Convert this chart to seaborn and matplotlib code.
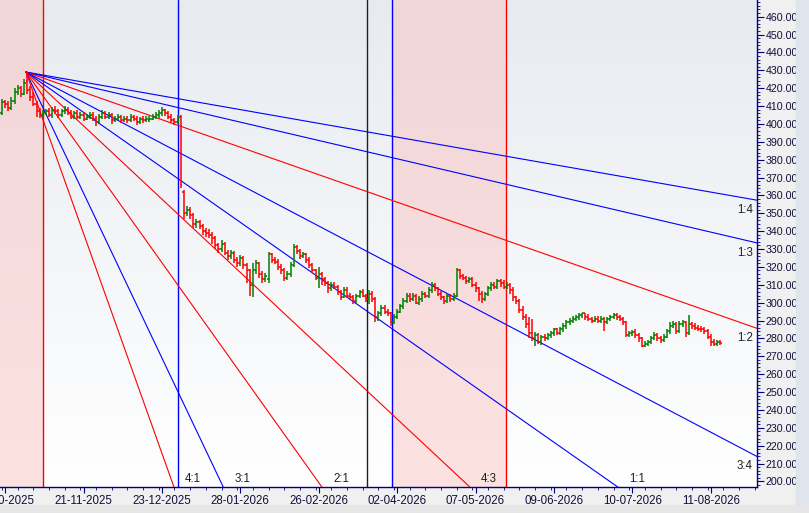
import numpy as np
import pandas as pd
import seaborn as sns
import matplotlib.pyplot as plt
from matplotlib.colors import LinearSegmentedColormap
from matplotlib.ticker import MultipleLocator, FixedLocator
from matplotlib.patches import Rectangle

# daily OHLC bars (bar index = trading day)
opens = [406, 412, 411, 409, 413, 418, 420, 417, 424, 419,
         415, 411, 407, 405, 406, 407, 405, 408, 407, 405,
         407, 408, 406, 404, 406, 404, 405, 403, 404, 405,
         403, 401, 404, 406, 404, 405, 402, 403, 404, 402,
         403, 402, 404, 403, 401, 403, 402, 402, 403, 404,
         405, 406, 408, 406, 404, 402, 401, 404, 362, 350,
         352, 349, 344, 345, 343, 340, 339, 338, 336, 332,
         330, 333, 328, 326, 328, 324, 322, 325, 321, 318,
         310, 318, 322, 316, 313, 313, 327, 324, 323, 320,
         318, 314, 316, 321, 331, 329, 326, 327, 324, 321,
         318, 314, 316, 313, 311, 308, 310, 309, 306, 303,
         307, 304, 303, 301, 304, 306, 304, 302, 305, 302,
         292, 294, 297, 295, 294, 289, 292, 295, 298, 301,
         304, 302, 304, 300, 302, 305, 304, 307, 310, 308,
         305, 303, 301, 304, 302, 304, 318, 315, 314, 312,
         313, 310, 308, 305, 302, 305, 308, 310, 309, 312,
         311, 309, 310, 307, 303, 301, 296, 292, 288, 283,
         280, 282, 278, 281, 280, 282, 283, 285, 283, 285,
         287, 289, 290, 291, 292, 293, 294, 292, 291, 290,
         291, 290, 291, 289, 291, 292, 293, 292, 291, 289,
         282, 283, 283.5, 282, 280, 276, 277, 278, 280, 282,
         280, 279, 281, 284, 287, 288, 284, 288, 289, 283,
         288, 287, 286, 285.5, 285, 284, 281, 278, 277, 278]
highs = [414, 413.5, 413, 415, 420, 422, 421, 425, 429, 421,
         418, 413, 409, 407.5, 408.5, 409, 409.5, 410, 408.5, 408.5,
         410, 409.5, 407.5, 407, 407.5, 406.5, 406.5, 405.5, 406.5, 406.5,
         404.5, 405.5, 407.5, 407, 406.5, 406, 404.5, 405.5, 405, 404.5,
         404.5, 405.5, 405, 404.5, 404, 404.5, 404.5, 404.5, 405.5, 406.5,
         408, 409.5, 408.5, 407, 405.5, 403.5, 405, 405, 363, 354,
         353.5, 350, 347, 346.5, 344, 342, 341, 339.5, 337.5, 333.5,
         335, 334, 329.5, 329.5, 329, 325.5, 326.5, 326, 322, 319,
         322, 324, 323, 317.5, 316.5, 328.5, 328, 325.5, 324.5, 321.5,
         319.5, 317.5, 322.5, 333, 332.5, 330, 328.5, 328, 325.5, 322,
         319, 320, 317, 314.5, 312, 311.5, 311.5, 310, 307, 308.5,
         308.5, 305.5, 304.5, 305, 307, 307.5, 305, 307, 306.5, 303,
         295.5, 298.5, 298.5, 296.5, 295, 293.5, 296.5, 299.5, 302.5, 305.5,
         305.5, 305.5, 305, 303.5, 306.5, 306, 308.5, 311.5, 311, 309,
         306.5, 304, 305.5, 305, 305.5, 319.5, 319, 316, 315, 314.5,
         314.5, 311.5, 309, 306.5, 306, 309.5, 311.5, 311.5, 313.5, 313,
         312.5, 311.5, 311, 308.5, 304, 302, 298, 293.5, 292, 291,
         283.5, 283, 282, 282.5, 283, 284, 286, 286, 286.5, 288.5,
         290.5, 291.5, 292.5, 293, 294, 294.5, 294.5, 293.5, 292, 292.5,
         292.5, 292.5, 292, 292, 293, 294, 294, 293, 292, 290,
         284, 284.5, 285, 283, 281, 278.5, 279, 281.5, 283.5, 283,
         281.5, 282.5, 285.5, 289, 290, 289, 289.5, 290.5, 290, 293,
         289, 288.5, 287.5, 287, 286.5, 285.5, 282.5, 279.5, 279, 279]
lows = [405, 409, 407, 408, 411, 416, 415, 416, 417, 413,
        410, 404, 403.5, 403.5, 405, 404, 403.5, 405.5, 403.5, 404,
        405.5, 405, 402.5, 403, 402.5, 403, 401.5, 402, 403, 401.5,
        399, 400, 403, 402.5, 403, 400, 401, 402, 400.5, 401,
        400.5, 401, 401.5, 399.5, 400, 400.5, 401, 401, 402, 402.5,
        403.5, 404.5, 404.5, 402.5, 400.5, 399.5, 400, 364, 347, 348.5,
        347, 341.5, 342, 341, 338, 336.5, 336, 333, 330, 328,
        328.5, 326.5, 324, 324.5, 322, 320, 320.5, 319, 311, 304,
        303, 316, 314, 311, 311.5, 311, 322, 321.5, 318.5, 316,
        312, 312.5, 314.5, 320, 327, 324.5, 325, 322, 319.5, 316.5,
        312.5, 308, 310, 309.5, 305.5, 306.5, 307.5, 304.5, 301.5, 302.5,
        302.5, 301.5, 299.5, 300, 302.5, 303, 300.5, 299, 300.5, 289,
        289.5, 292.5, 293.5, 292.5, 287, 288, 291, 294, 296.5, 300,
        300.5, 301, 299, 298.5, 300.5, 302.5, 302.5, 305.5, 306.5, 303.5,
        301.5, 299.5, 300, 300.5, 301, 303, 313.5, 312.5, 310.5, 311,
        308.5, 306, 301, 300, 301, 303.5, 306.5, 307.5, 307.5, 309,
        307.5, 307.5, 305, 301, 299.5, 294.5, 290.5, 286, 280, 278.5,
        276, 277, 276.5, 278.5, 279, 280.5, 281.5, 282, 282, 283.5,
        285.5, 287.5, 288.5, 289.5, 290.5, 291.5, 290.5, 289.5, 288.5, 289,
        288.5, 288.5, 284, 288, 290, 291, 290.5, 289.5, 287.5, 281,
        281, 281.5, 280.5, 278, 275, 275, 275.5, 277, 279, 278.5,
        277.5, 278, 280, 282.5, 286, 282.5, 283, 286.5, 281, 282,
        285.5, 284.5, 284, 283.5, 282.5, 279.5, 276, 275.5, 276, 276.5]
closes = [412, 411, 409, 413, 418, 420, 417, 423, 419, 415,
          411, 407, 405, 406, 407, 405, 408, 407, 405, 407,
          408, 406, 404, 406, 404, 405, 403, 404, 405, 403,
          401, 404, 406, 404, 405, 402, 403, 404, 402, 403,
          402, 404, 403, 401, 403, 402, 403, 403, 404, 405,
          406, 408, 406, 404, 402, 401, 404, 366, 350, 352,
          349, 344, 345, 343, 340, 339, 338, 336, 332, 330,
          333, 328, 326, 328, 324, 322, 325, 321, 318, 310,
          318, 322, 316, 313, 315, 327, 324, 323, 320, 318,
          314, 316, 321, 331, 329, 326, 327, 324, 321, 318,
          314, 316, 313, 311, 308, 310, 309, 306, 303, 307,
          304, 303, 301, 304, 306, 304, 302, 305, 302, 292,
          294, 297, 295, 294, 289, 292, 295, 298, 301, 304,
          302, 304, 300, 302, 305, 304, 307, 310, 308, 305,
          303, 301, 304, 302, 304, 318, 315, 314, 312, 313,
          310, 308, 305, 302, 305, 308, 310, 309, 312, 311,
          309, 310, 307, 303, 301, 296, 292, 288, 283, 280,
          282, 278, 281, 280, 282, 283, 285, 283, 285, 287,
          289, 290, 291, 292, 293, 294, 292, 291, 290, 291,
          290, 291, 289, 291, 292, 293, 292, 291, 289, 282,
          283, 283.5, 282, 280, 276, 277, 278, 280, 282, 280,
          279, 281, 284, 287, 288, 284, 288, 289, 283, 288,
          287, 286, 285.5, 285, 284, 281, 278, 277, 278, 277.5]

date_labels = ['20-10-2025', '21-11-2025', '23-12-2025', '28-01-2026', '26-02-2026',
               '02-04-2026', '07-05-2026', '09-06-2026', '10-07-2026', '11-08-2026']

# Gann fan from the October high
fan_pivot_bar = 7.65
fan_pivot_price = 429.0
fan_unit = 1.23  # price per bar for the 1:1 line
fan_names = ['1:4', '1:3', '1:2', '3:4', '1:1', '4:3', '2:1', '3:1', '4:1']
fan_ratios = [1 / 4, 1 / 3, 1 / 2, 3 / 4, 1, 4 / 3, 2, 3, 4]
fan_colors = ['blue', 'blue', 'red', 'blue', 'blue', 'red', 'red', 'blue', 'red']

# time cycle lines and shaded zones (bar index)
cycle_bars = [13.1, 56.1, 116.4, 124.4, 160.7]
cycle_colors = ['red', 'blue', '#202020', 'blue', 'red']
zones = [(-1, 13.1), (124.4, 160.7)]

xmin, xmax = -0.64, 240.75
ymin, ymax = 196.9, 469.3

sns.set_theme(style='white')
plt.rcParams['font.family'] = ['Liberation Sans', 'DejaVu Sans']

fig = plt.figure(figsize=(8.09, 5.13), dpi=100, facecolor='#f0f0f0')
ax = fig.add_axes([0, 26 / 513, 757 / 809, 487 / 513])
fig.patches.append(Rectangle((796 / 809, 0), 13 / 809, 1, transform=fig.transFigure,
                             color='#dfe5ec', zorder=0))
fig.patches.append(Rectangle((0, 0), 1, 8 / 513, transform=fig.transFigure,
                             color='#e6e6e6', zorder=0))

# background gradient
bg = LinearSegmentedColormap.from_list('bg', ['#ffffff', '#e7ebf0'])
ax.imshow(np.linspace(0, 1, 256).reshape(-1, 1), extent=[xmin, xmax, ymin, ymax],
          cmap=bg, aspect='auto', origin='lower', zorder=0)
pink = LinearSegmentedColormap.from_list('pink', ['#fde2e2', '#f1d6d8'])
for z0, z1 in zones:
    ax.imshow(np.linspace(0, 1, 256).reshape(-1, 1), extent=[z0, z1, ymin, ymax],
              cmap=pink, aspect='auto', origin='lower', zorder=0.5)

for b, c in zip(cycle_bars, cycle_colors):
    ax.axvline(b, color=c, lw=1.0, zorder=2)

# fan lines
rows = []
for name, r in zip(fan_names, fan_ratios):
    rows.append((name, fan_pivot_bar, fan_pivot_price))
    rows.append((name, xmax, fan_pivot_price - r * fan_unit * (xmax - fan_pivot_bar)))
fan = pd.DataFrame(rows, columns=['ratio', 'bar', 'price'])
sns.lineplot(data=fan, x='bar', y='price', hue='ratio', units='ratio', estimator=None,
             palette=dict(zip(fan_names, fan_colors)), sort=False, lw=0.8,
             legend=False, ax=ax, zorder=3)

for name, r in zip(fan_names, fan_ratios):
    slope = r * fan_unit
    y_end = fan_pivot_price - slope * (xmax - fan_pivot_bar)
    if y_end > ymin:
        ax.annotate(name, (xmax, y_end), xytext=(-3, -7), textcoords='offset points',
                    ha='right', va='center', fontsize=8.3, color='#202020', zorder=5)
    else:
        xb = fan_pivot_bar + (fan_pivot_price - ymin) / slope
        ax.annotate(name, (xb, ymin), xytext=(8, 6), textcoords='offset points',
                    ha='left', va='center', fontsize=8.3, color='#202020', zorder=5)

# OHLC bars
x = np.arange(len(closes))
o = np.array(opens)
c = np.array(closes)
cols = np.where(c >= o, '#008000', '#ff0000')
ax.vlines(x, lows, highs, colors=cols, lw=1.1, zorder=4)
ax.hlines(o, x - 0.5, x, colors=cols, lw=1.1, zorder=4)
ax.hlines(c, x, x + 0.5, colors=cols, lw=1.1, zorder=4)

ax.set_xlim(xmin, xmax)
ax.set_ylim(ymin, ymax)
ax.set_xlabel('')
ax.set_ylabel('')

axis_col = '#000080'
for s in ['top', 'left']:
    ax.spines[s].set_visible(False)
for s in ['right', 'bottom']:
    ax.spines[s].set_color(axis_col)
    ax.spines[s].set_linewidth(1.0)

ax.yaxis.tick_right()
ax.yaxis.set_major_locator(MultipleLocator(10))
ax.yaxis.set_minor_locator(MultipleLocator(2))
ax.yaxis.set_major_formatter(lambda v, p: f'{v:.2f}')
ax.tick_params(axis='y', which='major', length=5, width=0.8, color=axis_col,
               labelsize=7.7, labelcolor='#10103a', pad=1, right=True, left=False)
ax.tick_params(axis='y', which='minor', length=2.5, width=0.6, color=axis_col, right=True)

ax.xaxis.set_major_locator(FixedLocator([1 + 25 * k for k in range(len(date_labels))]))
ax.xaxis.set_minor_locator(MultipleLocator(5))
ax.set_xticklabels(date_labels)
ax.tick_params(axis='x', which='major', length=4, width=0.8, color=axis_col,
               labelsize=8.3, labelcolor='#10103a', pad=2, bottom=True)
ax.tick_params(axis='x', which='minor', length=2.5, width=0.6, color=axis_col, bottom=True)

fig.savefig('out.png', dpi=100, facecolor=fig.get_facecolor())
